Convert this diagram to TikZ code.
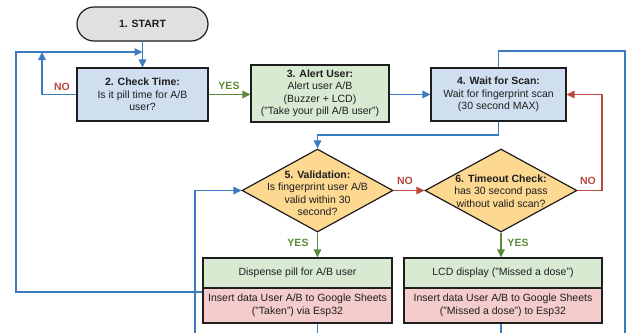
\documentclass[tikz,border=0pt]{standalone}
\usepackage{fontspec}
\setmainfont{Liberation Sans}
\usetikzlibrary{shapes.geometric,arrows.meta}
\definecolor{bluefill}{HTML}{CFDFF0}
\definecolor{greenfill}{HTML}{D8EAD2}
\definecolor{redfill}{HTML}{F3CCCB}
\definecolor{yellowfill}{HTML}{FCD891}
\definecolor{greyfill}{HTML}{E0E0E0}
\definecolor{lineblue}{HTML}{3B7BBF}
\definecolor{linered}{HTML}{B94A3C}
\definecolor{linegreen}{HTML}{5A8A3A}
\definecolor{bordercol}{HTML}{1E1E1E}
\begin{document}
\begin{tikzpicture}[x=1pt,y=-1pt,
  box/.style={draw=bordercol, line width=1.2pt, inner sep=0pt, align=center,
    font=\fontsize{10.5}{12.5}\selectfont, text=bordercol},
  dia/.style={draw=bordercol, line width=1.2pt, diamond, inner sep=0pt, fill=yellowfill},
  txt/.style={align=center, font=\fontsize{10.5}{12.5}\selectfont, text=bordercol, inner sep=0pt},
  tip/.style={-{Triangle[length=8pt,width=7.5pt]}},
  bl/.style={draw=lineblue, line width=1.3pt},
  rl/.style={draw=linered, line width=1.3pt},
  gl/.style={draw=linegreen, line width=1.3pt},
  nolab/.style={text=linered, font=\fontsize{10.5}{12}\selectfont\bfseries, inner sep=0pt},
  yeslab/.style={text=linegreen, font=\fontsize{10.5}{12}\selectfont\bfseries, inner sep=0pt}
]
\useasboundingbox[fill=white] (0,0) rectangle (630,333);

% nodes
\node[box, fill=greyfill, rounded corners=17pt, minimum width=131pt, minimum height=34pt] (start) at (142.5,24) {\textbf{1. START}};
\node[box, fill=bluefill, minimum width=131pt, minimum height=53pt] (check) at (142.5,94.5) {\textbf{2. Check Time:}\\Is it pill time for A/B\\user?};
\node[box, fill=greenfill, minimum width=138pt, minimum height=57pt] (alert) at (320,93.5) {\textbf{3. Alert User:}\\Alert user A/B\\(Buzzer + LCD)\\("Take your pill A/B user")};
\node[box, fill=bluefill, minimum width=135pt, minimum height=53pt] (wait) at (498.5,94.5) {\textbf{4. Wait for Scan:}\\Wait for fingerprint scan\\(30 second MAX)};

\node[dia, minimum width=151pt, minimum height=83pt] (valid) at (317.5,190.5) {};
\node[txt] (validtxt) at (317.5,193) {\textbf{5. Validation:}\\Is fingerprint user A/B\\valid within 30\\second?};
\node[dia, minimum width=152pt, minimum height=83pt] (timeout) at (501,190.5) {};
\node[txt] (timeouttxt) at (501,191) {\textbf{6. Timeout Check:}\\has 30 second pass\\without valid scan?};

\node[box, fill=greenfill, minimum width=189pt, minimum height=30pt] (disp) at (297.5,273) {Dispense pill for A/B user};
\node[box, fill=redfill, minimum width=189pt, minimum height=35pt] (taken) at (297.5,305.5) {Insert data User A/B to Google Sheets\\("Taken") via Esp32};
\node[box, fill=greenfill, minimum width=198pt, minimum height=30pt] (lcd) at (503,273) {LCD display ("Missed a dose")};
\node[box, fill=redfill, minimum width=198pt, minimum height=35pt] (missed) at (503,305.5) {Insert data User A/B to Google Sheets\\("Missed a dose") to Esp32};

% helper coordinates
\coordinate (noup) at (42,52);
\coordinate (loopL) at (16,292);
\coordinate (loopT) at (16,52);
\coordinate (joinS) at (142.5,52);
\coordinate (routeY) at (0,135);
\coordinate (topR) at (625,51);
\coordinate (botR) at (625,333);
\coordinate (redR) at (602,190.5);
\coordinate (b1) at (317.5,333);
\coordinate (b2) at (195,333);
\coordinate (lv) at (195,190.5);
\coordinate (b3) at (501,333);

% connectors
\draw[bl,tip] (start) -- (check);
\draw[bl,tip] (check.west) -| (noup);
\node[nolab] (no1) at (62,87) {NO};
\draw[bl,tip] (loopL -| taken.west) -- (loopL) -- (loopT) -- (joinS);
\draw[gl,tip] (check.east) -- (check.east -| alert.west);
\node[yeslab] (yes1) at (229,86) {YES};
\draw[bl,tip] (alert.east |- wait.west) -- (wait.west);
\draw[bl,tip] (wait.south) -- (wait.south |- routeY) -| (valid.north);
\draw[bl] (wait.north) |- (topR) -- (botR);
\draw[rl,tip] (valid.east) -- (timeout.west);
\node[nolab] (no2) at (405,181) {NO};
\draw[rl,tip] (timeout.east) -- (redR) |- (wait.east);
\node[nolab] (no3) at (588,181) {NO};
\draw[gl,tip] (valid.south) -- (valid.south |- disp.north);
\node[yeslab] (yes2) at (298,243) {YES};
\draw[gl,tip] (timeout.south) -- (timeout.south |- lcd.north);
\node[yeslab] (yes3) at (518,243) {YES};
\draw[bl,tip] (b2) -- (lv) -- (valid.west);
\draw[bl] (valid.south |- taken.south) -- (b1);
\draw[bl] (timeout.south |- missed.south) -- (b3);
\end{tikzpicture}
\end{document}
